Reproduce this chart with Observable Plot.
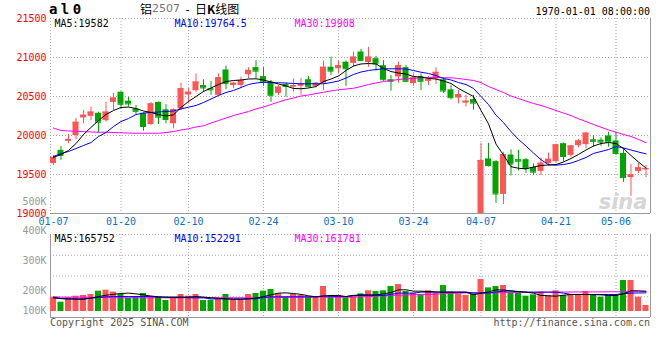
<!DOCTYPE html>
<html><head><meta charset="utf-8">
<script src="https://cdn.jsdelivr.net/npm/d3@7"></script>
<script src="https://cdn.jsdelivr.net/npm/@observablehq/plot@0.6"></script>
<style>
body{margin:0;background:#fff;}
#chart{position:relative;width:660px;height:360px;background:#fff;overflow:hidden;font-family:"DejaVu Sans Mono",monospace;}
#chart svg{position:absolute;left:0;overflow:visible;}
.t{position:absolute;white-space:nowrap;line-height:1;}
.t span{display:inline-block;line-height:12px;height:12px;vertical-align:top;}
</style></head><body><div id="chart"></div>
<script>
const dates = ["01-07","01-08","01-09","01-10","01-13","01-14","01-15","01-16","01-17","01-20","01-21","01-22","01-23","01-24","01-27",
"02-05","02-06","02-07","02-10","02-11","02-12","02-13","02-14","02-17","02-18","02-19","02-20","02-21","02-24","02-25","02-26","02-27","02-28",
"03-03","03-04","03-05","03-06","03-07","03-10","03-11","03-12","03-13","03-14","03-17","03-18","03-19","03-20","03-21","03-24","03-25","03-26","03-27","03-28","03-31",
"04-01","04-02","04-03","04-07","04-08","04-09","04-10","04-11","04-14","04-15","04-16","04-17","04-18","04-21","04-22","04-23","04-24","04-25","04-28","04-29","04-30",
"05-06","05-07","05-08","05-09","05-12"];
const open  = [19640,19810,19925,20000,20225,20245,20285,20190,20425,20555,20440,20340,20285,20140,20425,20330,20150,20340,20520,20575,20640,20600,20515,20840,20640,20640,20780,20870,20755,20685,20540,20655,20620,20630,20715,20630,20670,20875,20855,20940,20925,21070,20935,20985,20895,20715,20750,20870,20665,20755,20695,20725,20715,20585,20480,20415,20460,19000,19700,19665,19245,19750,19690,19690,19590,19540,19640,19665,19895,19745,19870,19885,19945,19940,19995,19930,19770,19460,19540,19560];
const high  = [19745,19860,20015,20220,20320,20365,20300,20425,20540,20560,20490,20385,20290,20425,20430,20395,20340,20670,20600,20790,20715,20695,20790,20890,20685,20750,20870,20960,20870,20705,20640,20670,20725,20735,20755,20680,20955,21005,20955,20955,21070,21105,21130,21015,20960,20770,20940,20895,20790,20790,20755,20870,20740,20640,20580,20515,20515,19900,19900,19680,19785,19815,19810,19705,19635,19710,19775,19890,19905,19870,19950,20040,20000,19970,20040,20040,19835,19630,19645,19615];
const low   = [19615,19680,19895,19945,20150,20190,20030,20170,20320,20340,20365,20270,20055,20130,20140,20150,20085,20320,20405,20555,20555,20515,20510,20590,20600,20600,20725,20725,20630,20425,20515,20490,20555,20515,20610,20610,20575,20770,20790,20630,20875,20955,20875,20825,20695,20570,20670,20685,20630,20575,20640,20655,20540,20455,20405,20365,20325,19000,19595,19130,19115,19480,19545,19515,19485,19485,19610,19655,19660,19720,19840,19830,19850,19860,19850,19745,19400,19220,19510,19460];
const close = [19720,19745,19950,20170,20260,20300,20170,20300,20480,20400,20405,20310,20115,20405,20235,20205,20330,20600,20555,20685,20610,20585,20740,20665,20670,20705,20835,20825,20685,20515,20620,20630,20640,20665,20630,20670,20875,20825,20895,20855,21005,20960,21005,20920,20715,20695,20895,20695,20740,20695,20715,20810,20570,20485,20525,20440,20415,19680,19615,19250,19755,19635,19670,19575,19530,19645,19695,19880,19730,19865,19930,20030,19925,19915,19915,19770,19460,19495,19585,19575];
const ma5  = [19720,19757,19808,19897,20013,20103,20192,20269,20320,20359,20365,20346,20314,20295,20269,20250,20265,20359,20436,20500,20564,20609,20654,20692,20705,20712,20724,20727,20712,20686,20660,20635,20603,20599,20609,20628,20692,20724,20763,20833,20891,20917,20923,20917,20859,20820,20801,20788,20756,20750,20731,20724,20699,20667,20603,20551,20500,20320,20150,19890,19750,19600,19580,19573,19596,19615,19622,19628,19660,19705,19757,19814,19865,19897,19910,19897,19833,19744,19660,19582];
const ma10 = [19731,19769,19795,19833,19872,19910,19987,20038,20115,20179,20218,20269,20288,20295,20301,20308,20314,20340,20363,20385,20423,20468,20513,20551,20577,20615,20654,20673,20683,20679,20676,20673,20667,20663,20663,20663,20663,20679,20699,20737,20782,20814,20833,20846,20855,20855,20855,20853,20833,20811,20795,20769,20731,20712,20679,20654,20603,20500,20397,20260,20165,20050,19950,19865,19775,19690,19625,19620,19628,19647,19680,19718,19770,19795,19820,19858,19840,19814,19788,19764.5];
const ma30 = [20095,20064,20058,20055,20051,20045,20042,20042,20038,20035,20032,20029,20029,20029,20029,20038,20051,20071,20086,20109,20124,20160,20192,20224,20256,20282,20308,20340,20365,20397,20429,20458,20481,20506,20519,20538,20555,20571,20586,20596,20606,20628,20654,20673,20692,20705,20718,20727,20731,20740,20744,20744,20740,20740,20731,20718,20705,20679,20628,20590,20551,20506,20474,20442,20410,20385,20353,20320,20288,20256,20214,20179,20141,20106,20071,20042,20013,19987,19949,19908];
const volume = [117000,76000,112000,125000,131000,139000,166000,174000,158000,139000,109000,117000,147000,117000,117000,90000,117000,139000,125000,139000,90000,92000,103000,139000,98000,98000,139000,147000,166000,180000,144000,117000,139000,131000,117000,117000,204000,131000,131000,112000,131000,144000,169000,163000,169000,204000,220000,163000,150000,136000,169000,150000,212000,158000,144000,131000,144000,261000,193000,204000,212000,150000,150000,125000,136000,158000,131000,169000,131000,136000,136000,163000,139000,117000,136000,136000,253000,253000,117000,49000];
const volMa5  = [111000,105000,103000,100000,100000,110000,122000,133000,140000,147000,150000,144000,136000,126000,120000,117000,115000,117000,118000,122000,118000,112000,108000,103000,100000,100000,103000,110000,122000,136000,150000,152000,147000,140000,128000,120000,125000,131000,131000,122000,131000,136000,136000,136000,144000,155000,177000,177000,166000,166000,163000,160000,158000,158000,158000,158000,136000,150000,160000,177000,175000,169000,163000,158000,150000,131000,128000,125000,133000,139000,139000,139000,137000,136000,131000,131000,144000,169000,169000,165752];
const volMa10 = [117000,106000,103000,103000,103000,108000,115000,120000,122000,122000,122000,122000,122000,122000,117000,117000,117000,117000,112000,112000,112000,103000,103000,103000,103000,103000,103000,103000,115000,120000,120000,120000,120000,120000,120000,120000,128000,125000,122000,122000,131000,131000,131000,131000,131000,140000,150000,150000,150000,158000,158000,158000,158000,158000,158000,158000,152000,150000,150000,160000,166000,166000,162000,158000,158000,158000,158000,158000,150000,139000,139000,139000,139000,139000,139000,139000,146000,150000,151000,152291];
const volMa30 = [120000,117000,117000,117000,117000,115000,115000,114000,113000,112000,112000,112000,112000,112000,112000,112000,112000,112000,112000,112000,112000,112000,112000,112000,112000,112000,112000,112000,112000,114000,115000,116000,117000,117000,117000,117000,117000,117000,117000,117000,118000,120000,122000,125000,128000,131000,133000,135000,137000,139000,140000,142000,145000,148000,150000,152000,152000,152000,152000,153000,154000,155000,156000,157000,157000,158000,158000,159000,159000,159000,160000,160000,160000,160000,161000,161000,161000,161500,161700,161781];
const priceTicks = [19000,19500,20000,20500,21000,21500];
const dateTicks = ["01-07","01-20","02-10","02-24","03-10","03-24","04-07","04-21","05-06"];
const volTicks = [500000,400000,300000,200000,100000];
const volTickLabels = ["500K","400K","300K","200K","100K"];

const RED = "#ff5555", GREEN = "#00a600";
const data = dates.map((d, i) => ({i, date: d, open: open[i], high: high[i], low: low[i], close: close[i],
  ma5: ma5[i], ma10: ma10[i], ma30: ma30[i], vol: volume[i], vma5: volMa5[i], vma10: volMa10[i], vma30: volMa30[i]}));
const col = d => d.close >= d.open ? RED : GREEN;
const tickIdx = dateTicks.map(d => dates.indexOf(d));
const gridIdx = tickIdx.slice(1);
const X0 = -0.4, X1 = dates.length - 0.4;
const DOT = "1,2", GRID = "#a8a8a8", FONT = "DejaVu Sans Mono";

const chart = document.getElementById("chart");

const topPlot = Plot.plot({
  width: 660, height: 232, marginLeft: 50, marginRight: 10, marginTop: 18, marginBottom: 19,
  style: {fontFamily: FONT, fontSize: "10px", background: "transparent", overflow: "visible"},
  x: {type: "linear", domain: [X0, X1], axis: null},
  y: {domain: [19000, 21500], axis: null},
  marks: [
    Plot.ruleY(priceTicks.slice(1), {stroke: GRID, strokeDasharray: DOT}),
    Plot.ruleX(gridIdx, {stroke: GRID, strokeDasharray: DOT}),
    Plot.ruleX([X0], {stroke: GRID, strokeDasharray: DOT}),
    Plot.ruleY([19000], {stroke: "#999"}),
    Plot.ruleX([X1], {stroke: "#999"}),
    Plot.axisY(priceTicks, {tickSize: 0, tickPadding: 4, tickFormat: d => String(d), label: null, fill: "#ff0000", fontSize: 10, fontFamily: FONT}),
    Plot.axisX(tickIdx, {tickSize: 0, tickPadding: 4, tickFormat: i => dates[i], label: null, fill: "#0a6fcc", fontSize: 10, fontFamily: FONT}),
    Plot.text(["sina"], {frameAnchor: "bottom-right", dx: -3, dy: -5, fontSize: 21, fontStyle: "italic", fontWeight: "bold", fill: "#d6d6d6", fontFamily: "DejaVu Sans"}),
    Plot.ruleX(data, {x: "i", y1: "low", y2: "high", stroke: col}),
    Plot.rectY(data, {x1: d => d.i - 0.4, x2: d => d.i + 0.4, y1: "open", y2: "close", fill: col}),
    Plot.ruleY(data, {y: "close", x1: d => d.i - 0.4, x2: d => d.i + 0.4, stroke: col}),
    Plot.line(data, {x: "i", y: "ma30", stroke: "#ff00ff", strokeWidth: 1}),
    Plot.line(data, {x: "i", y: "ma10", stroke: "#0000ff", strokeWidth: 1}),
    Plot.line(data, {x: "i", y: "ma5", stroke: "#000", strokeWidth: 1}),
    Plot.text([`MA5:${ma5[ma5.length-1]}`], {frameAnchor: "top-left", dx: 4, dy: 1, fill: "#000", fontSize: 10, fontFamily: FONT}),
    Plot.text([`MA10:${ma10[ma10.length-1]}`], {frameAnchor: "top-left", dx: 124, dy: 1, fill: "#0000ff", fontSize: 10, fontFamily: FONT}),
    Plot.text([`MA30:${ma30[ma30.length-1]}`], {frameAnchor: "top-left", dx: 244, dy: 1, fill: "#ff00ff", fontSize: 10, fontFamily: FONT})
  ]
});
topPlot.style.top = "0px";
chart.appendChild(topPlot);

const VLO = -49000, VHI = 628600;
const volGrid = [1, 2, 3].map(k => VLO + k * (VHI - VLO) / 4);
const volPlot = Plot.plot({
  width: 660, height: 100, marginLeft: 50, marginRight: 10, marginTop: 8, marginBottom: 9,
  style: {fontFamily: FONT, fontSize: "10px", background: "transparent", overflow: "visible"},
  x: {type: "linear", domain: [X0, X1], axis: null},
  y: {domain: [VLO, VHI], axis: null},
  marks: [
    Plot.ruleY(volGrid, {stroke: GRID, strokeDasharray: DOT}),
    Plot.ruleX(gridIdx, {stroke: GRID, strokeDasharray: DOT}),
    Plot.ruleY([VHI], {stroke: GRID, strokeDasharray: DOT}),
    Plot.ruleX([X0], {stroke: "#999"}),
    Plot.ruleY([VLO], {stroke: "#999"}),
    Plot.ruleX([X1], {stroke: "#999"}),
    Plot.rectY(data, {x1: d => d.i - 0.4, x2: d => d.i + 0.4, y1: 0, y2: "vol", fill: col}),
    Plot.line(data, {x: "i", y: "vma30", stroke: "#ff00ff", strokeWidth: 1}),
    Plot.line(data, {x: "i", y: "vma10", stroke: "#0000ff", strokeWidth: 1}),
    Plot.line(data, {x: "i", y: "vma5", stroke: "#000", strokeWidth: 1}),
    Plot.text([`MA5:${volMa5[volMa5.length-1]}`], {frameAnchor: "top-left", dx: 4, dy: 0, fill: "#000", fontSize: 10, fontFamily: FONT}),
    Plot.text([`MA10:${volMa10[volMa10.length-1]}`], {frameAnchor: "top-left", dx: 124, dy: 0, fill: "#0000ff", fontSize: 10, fontFamily: FONT}),
    Plot.text([`MA30:${volMa30[volMa30.length-1]}`], {frameAnchor: "top-left", dx: 244, dy: 0, fill: "#ff00ff", fontSize: 10, fontFamily: FONT})
  ]
});
volPlot.style.top = "226px";
chart.appendChild(volPlot);

const volAxis = Plot.plot({
  width: 52, height: 140, marginLeft: 50, marginRight: 2, marginTop: 0, marginBottom: 0,
  style: {fontFamily: FONT, fontSize: "10px", background: "transparent", overflow: "visible"},
  y: {type: "linear", domain: [100000, 200000, 500000], range: [120, 100, 11], axis: null},
  marks: [
    Plot.axisY(volTicks, {anchor: "left", tickSize: 0, tickPadding: 4, label: null, tickFormat: v => volTickLabels[volTicks.indexOf(v)], fill: "#999", fontSize: 10, fontFamily: FONT})
  ]
});
volAxis.style.top = "190px";
chart.appendChild(volAxis);

function addText(html, css) {
  const el = document.createElement("div");
  el.className = "t";
  el.innerHTML = html;
  Object.assign(el.style, css);
  chart.appendChild(el);
}
addText("al0", {left: "49px", top: "3px", height: "13px", lineHeight: "13px", fontSize: "14px", fontWeight: "bold", letterSpacing: "3.4px", color: "#000"});
addText('<span style="font-family:\'Noto Sans CJK SC\';font-size:12px">铝</span><span style="font-family:\'DejaVu Sans\';font-size:11px;color:#777">2507</span><span style="font-family:\'Noto Sans CJK SC\';font-size:12px">&nbsp;&nbsp;-&nbsp;&nbsp;日<b>K</b>线图</span>',
  {left: "140px", top: "3px", color: "#000"});
addText("1970-01-01 08:00:00", {right: "10px", top: "7px", fontSize: "10px", color: "#000"});
addText("Copyright 2025 SINA.COM", {left: "50px", top: "318px", fontSize: "10px", color: "#555"});
addText("http://finance.sina.com.cn", {right: "10px", top: "318px", fontSize: "10px", color: "#555"});
</script></body></html>
